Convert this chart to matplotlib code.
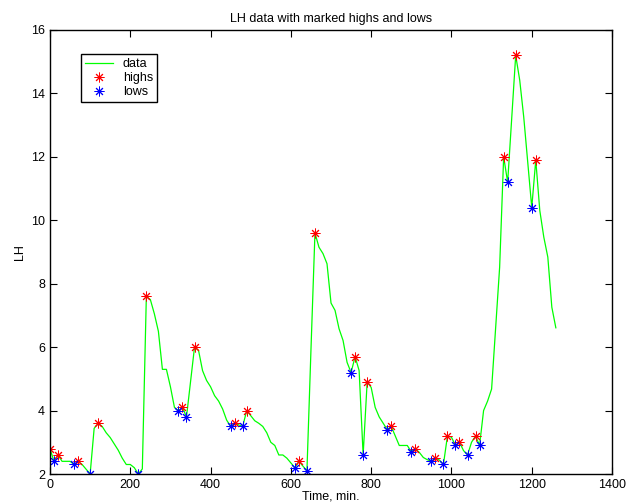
import matplotlib
matplotlib.use("Agg")
import matplotlib.pyplot as plt
import numpy as np

plt.rcParams['font.family'] = ['Liberation Sans', 'DejaVu Sans']

# LH series, sampled every 10 min
time_min = np.arange(0, 1270, 10)
lh = [2.8, 2.4, 2.6, 2.4, 2.4, 2.4, 2.3, 2.4, 2.3, 2.15,
      2.0, 3.44, 3.6, 3.5, 3.3, 3.15, 2.95, 2.75, 2.5, 2.3,
      2.3, 2.2, 2.0, 2.16, 7.6, 7.5, 7.05, 6.5, 5.3, 5.3,
      4.75, 4.1, 4.0, 4.1, 3.8, 4.9, 6.0, 5.9, 5.26, 4.95,
      4.75, 4.47, 4.3, 4.05, 3.7, 3.5, 3.6, 3.55, 3.5, 4.0,
      3.84, 3.68, 3.6, 3.5, 3.3, 3.0, 2.9, 2.6, 2.6, 2.5,
      2.35, 2.2, 2.4, 2.25, 2.1, 5.9, 9.6, 9.15, 8.95, 8.63,
      7.39, 7.16, 6.58, 6.21, 5.52, 5.2, 5.7, 5.26, 2.6, 4.9,
      4.73, 4.1, 3.8, 3.6, 3.4, 3.5, 3.2, 2.9, 2.9, 2.9,
      2.7, 2.8, 2.68, 2.52, 2.45, 2.4, 2.5, 2.44, 2.3, 3.2,
      3.16, 2.9, 3.0, 2.74, 2.6, 3.0, 3.2, 2.9, 4.0, 4.3,
      4.68, 6.6, 8.52, 12.0, 11.2, 13.2, 15.2, 14.42, 13.26, 11.83,
      10.4, 11.9, 10.31, 9.47, 8.84, 7.26, 6.61]

high_t = [0, 20, 70, 120, 240, 330, 360, 460, 490, 620, 660, 760, 790,
          850, 910, 960, 990, 1020, 1060, 1130, 1160, 1210]
high_v = [2.8, 2.6, 2.4, 3.6, 7.6, 4.1, 6.0, 3.6, 4.0, 2.4, 9.6, 5.7, 4.9,
          3.5, 2.8, 2.5, 3.2, 3.0, 3.2, 12.0, 15.2, 11.9]
low_t = [10, 60, 100, 220, 320, 340, 450, 480, 610, 640, 750, 780, 840,
         900, 950, 980, 1010, 1040, 1070, 1140, 1200]
low_v = [2.4, 2.3, 2.0, 2.0, 4.0, 3.8, 3.5, 3.5, 2.2, 2.1, 5.2, 2.6, 3.4,
         2.7, 2.4, 2.3, 2.9, 2.6, 2.9, 11.2, 10.4]

fig = plt.figure(figsize=(6.28, 5.04), dpi=100)
ax = fig.add_axes([0.0796, 0.0595, 0.895, 0.881])

star = (8, 2, 0)  # matlab style asterisk
ax.plot(time_min, lh, color=(0, 1, 0), lw=0.9, label='data')
ax.plot(high_t, high_v, ls='none', marker=star, color='r', ms=7, mew=0.7, label='highs')
ax.plot(low_t, low_v, ls='none', marker=star, color='b', ms=7, mew=0.7, label='lows')

ax.set_xlim(0, 1400)
ax.set_ylim(2, 16)
ax.set_xticks(range(0, 1401, 200))
ax.set_yticks(range(2, 17, 2))
ax.tick_params(direction='in', top=True, right=True, length=5, labelsize=9)
for s in ax.spines.values():
    s.set_linewidth(1.0)

ax.set_title('LH data with marked highs and lows', fontsize=9, pad=6)
ax.set_xlabel('Time, min.', fontsize=9, labelpad=0)
ax.set_ylabel('LH', fontsize=9, labelpad=4)

leg = ax.legend(loc='upper left', bbox_to_anchor=(0.056, 0.945), fontsize=9,
                fancybox=False, framealpha=1, edgecolor='k',
                handlelength=2.2, borderaxespad=0, labelspacing=0.15,
                handletextpad=0.8, borderpad=0.3)
leg.get_frame().set_linewidth(1.0)

fig.savefig('out.png', dpi=100)
